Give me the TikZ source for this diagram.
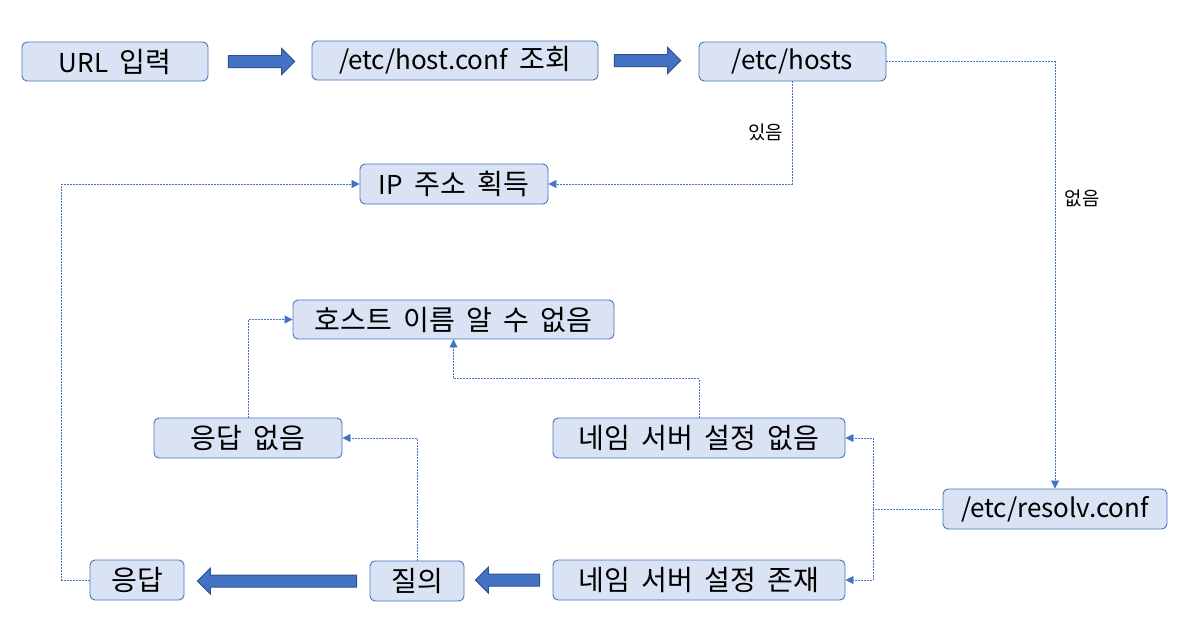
\documentclass[tikz,border=0pt]{standalone}
\usepackage{fontspec}
\setmainfont{Noto Sans CJK KR}
\newfontfamily\kr{Noto Sans CJK KR}[Scale=1.08, WordSpace=1.8]
\usetikzlibrary{arrows.meta,calc}
\definecolor{boxfill}{HTML}{DAE3F3}
\definecolor{boxline}{HTML}{4472C4}
\definecolor{arrdark}{HTML}{2F528F}
\tikzset{
 box/.style={draw=boxline, fill=boxfill, rounded corners=5pt, line width=0.9pt, minimum height=39pt, inner sep=0pt, font=\fontsize{26}{30}\selectfont},
 conn/.style={draw=boxline, line width=0.8pt, dash pattern=on 2pt off 1pt, -{Triangle[length=8pt,width=8pt]}},
 connplain/.style={draw=boxline, line width=0.8pt, dash pattern=on 2pt off 1pt},
 blockarrow/.style={fill=boxline, draw=arrdark, line width=1pt},
 lbl/.style={font=\fontsize{17.5}{20}\selectfont\kr, inner sep=0pt}
}
\newcommand\blockarr[2]{%
 \draw[blockarrow] let \p1=(#1), \p2=(#2), \n1={sign(\x2-\x1)} in
  ({\x1},{\y1+6pt}) -- ({\x2-\n1*13pt},{\y1+6pt}) -- ({\x2-\n1*13pt},{\y1+13pt}) -- ({\x2},{\y1})
  -- ({\x2-\n1*13pt},{\y1-13pt}) -- ({\x2-\n1*13pt},{\y1-6pt}) -- ({\x1},{\y1-6pt}) -- cycle;}
\begin{document}
\begin{tikzpicture}[x=1pt,y=-1pt]
\useasboundingbox (0,0) rectangle (1202,632);
\node[box, minimum width=186pt] (url) at (115,61.5) {URL{\kr\ 입력}};
\node[box, minimum width=286pt] (hconf) at (455,60.5) {/etc/host.conf{\kr\ 조회}};
\node[box, minimum width=187pt] (hosts) at (792.5,61.5) {/etc/hosts};
\node[box, minimum width=188pt, minimum height=40pt] (ip) at (454,184) {IP{\kr\ 주소 획득}};
\node[box, minimum width=321pt] (unk) at (453.5,319.5) {\kr 호스트 이름 알 수 없음};
\node[box, minimum width=188pt, minimum height=40pt] (nores) at (248,438) {\kr 응답 없음};
\node[box, minimum width=292pt, minimum height=40pt] (nons) at (699,438) {\kr 네임 서버 설정 없음};
\node[box, minimum width=224pt, minimum height=40pt] (resolv) at (1055,509) {/etc/resolv.conf};
\node[box, minimum width=94pt, minimum height=40pt] (resp) at (137,580) {\kr 응답};
\node[box, minimum width=94pt, minimum height=40pt] (query) at (417,581) {\kr 질의};
\node[box, minimum width=292pt, minimum height=40pt] (ns) at (699,580) {\kr 네임 서버 설정 존재};
% block arrows
\coordinate (b1s) at ($(url.east)+(20,0)$);
\coordinate (b1e) at ($(hconf.west)+(-17,0)$);
\coordinate (b2s) at ($(hconf.east)+(16,0)$);
\coordinate (b2e) at ($(hosts.west)+(-18,0)$);
\coordinate (b3s) at ($(ns.west)+(-13,0)$);
\coordinate (b3e) at ($(query.east)+(11,0)$);
\coordinate (b4s) at ($(query.west)+(-13,0)$);
\coordinate (b4e) at ($(resp.east)+(13,0)$);
\blockarr{b1s}{b1e}
\blockarr{b2s}{b2e}
\blockarr{b3s}{b3e}
\blockarr{b4s}{b4e}
% connectors
\draw[conn] (hosts.south) |- (ip.east);
\node[lbl] (l1) at (765.5,132.5) {있음};
\draw[conn] (hosts.east) -| (resolv.north);
\node[lbl] (l2) at (1082,198) {없음};
\coordinate (j) at (873,509);
\draw[connplain] (resolv.west) -- (j);
\draw[conn] (j) |- (nons.east);
\draw[conn] (j) |- (ns.east);
\draw[conn] (nons.north) |- ++(0,-39) -| (unk.south);
\draw[conn] (nores.north) |- (unk.west);
\draw[conn] (query.north) |- (nores.east);
\draw[conn] (resp.west) -- ++(-28,0) |- (ip.west);
\end{tikzpicture}
\end{document}
